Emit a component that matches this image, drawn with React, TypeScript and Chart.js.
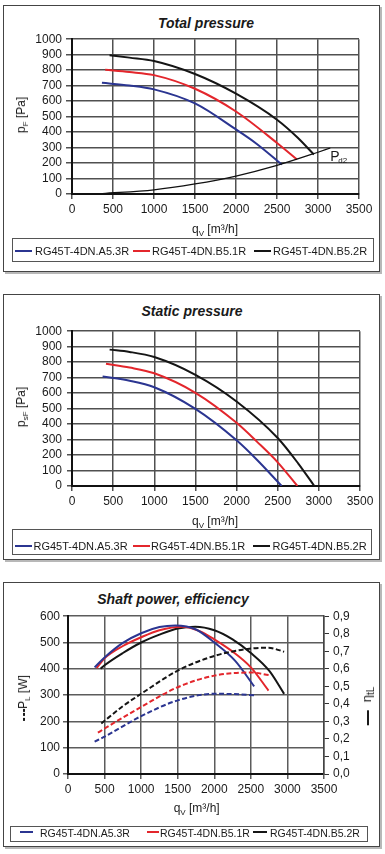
import React, { useEffect, useRef } from 'react';
import { Chart, registerables } from 'chart.js';

Chart.register(...registerables);

const FONT = "'Liberation Sans', Arial, Helvetica, sans-serif";
const INK = '#1a1a1a';

// Fan models and their curve colours
const MODELS = ['RG45T-4DN.A5.3R', 'RG45T-4DN.B5.1R', 'RG45T-4DN.B5.2R'];
const COLORS = ['#2b3591', '#e3262c', '#151515'];

// Flow axis q_V [m3/h]
const Q_MAX = 3500;
const Q_STEP = 500;

// Total pressure p_F [Pa]
const totalQ_A53 = [365, 700, 1000, 1500, 2000, 2250, 2560];
const totalP_A53 = [718, 701, 676, 585, 417, 325, 190];
const totalQ_B51 = [405, 700, 1000, 1500, 2000, 2500, 2745];
const totalP_B51 = [802, 788, 768, 680, 533, 330, 223];
const totalQ_B52 = [458, 700, 1000, 1500, 2000, 2500, 2750, 2950];
const totalP_B52 = [897, 881, 859, 775, 648, 480, 365, 255];
// Outlet dynamic pressure P_d2
const dynQ = [370, 1000, 1500, 2000, 2500, 3000, 3150];
const dynP = [3, 27, 65, 116, 185, 270, 297];

// Static pressure p_sF [Pa]
const staticQ_A53 = [372, 700, 1000, 1500, 2000, 2250, 2548];
const staticP_A53 = [707, 680, 638, 498, 295, 168, 0];
const staticQ_B51 = [413, 700, 1000, 1500, 2000, 2250, 2500, 2739];
const staticP_B51 = [789, 765, 728, 602, 408, 285, 153, 0];
const staticQ_B52 = [457, 700, 1000, 1500, 2000, 2500, 2750, 2945];
const staticP_B52 = [881, 866, 833, 718, 546, 310, 145, 0];

// Efficiency eta_tL [-] (right axis)
const effQ_A53 = [364, 500, 750, 1000, 1250, 1470, 1750, 2000, 2286, 2545];
const eff_A53 = [0.608, 0.665, 0.748, 0.803, 0.838, 0.847, 0.824, 0.75, 0.645, 0.5];
const effQ_B51 = [391, 500, 750, 1000, 1250, 1559, 1800, 2000, 2250, 2500, 2741];
const eff_B51 = [0.604, 0.66, 0.73, 0.78, 0.82, 0.84, 0.815, 0.768, 0.698, 0.608, 0.476];
const effQ_B52 = [445, 500, 750, 1000, 1250, 1500, 1741, 2000, 2250, 2500, 2750, 2955];
const eff_B52 = [0.6, 0.62, 0.69, 0.75, 0.795, 0.83, 0.84, 0.82, 0.768, 0.69, 0.589, 0.457];

// Shaft power P_L [W] (left axis)
const powQ_A53 = [364, 500, 1000, 1500, 2000, 2250, 2545];
const pow_A53 = [123, 142, 220, 280, 305, 304, 299];
const powQ_B51 = [409, 500, 1000, 1500, 2000, 2500, 2750];
const pow_B51 = [157, 173, 255, 330, 374, 386, 376];
const powQ_B52 = [455, 750, 1000, 1500, 2000, 2500, 2741, 2955];
const pow_B52 = [192, 258, 305, 393, 449, 477, 480, 465];

const tickFont = { family: FONT, size: 12 };
const fmt = (v: number) => String(v);

function curve(q: number[], v: number[], color: string, extra: any = {}) {
  return {
    data: q.map((x, i) => ({ x, y: v[i] })),
    borderColor: color,
    backgroundColor: color,
    borderWidth: 2,
    pointRadius: 0,
    fill: false,
    cubicInterpolationMode: 'monotone',
    ...extra,
  };
}

function qAxis(grid: string) {
  return {
    type: 'linear',
    position: 'bottom',
    min: 0,
    max: Q_MAX,
    ticks: { stepSize: Q_STEP, color: INK, font: tickFont, padding: 3, maxRotation: 0, autoSkip: false, callback: fmt },
    grid: { color: grid, lineWidth: 1.5, tickLength: 5 },
    border: { color: '#111', width: 2 },
    afterFit: (s: any) => { s.height = 26; },
  };
}

function vAxis(max: number, step: number, width: number, tl: number, pad: number, grid: string) {
  return {
    type: 'linear',
    position: 'left',
    min: 0,
    max,
    ticks: { stepSize: step, color: INK, font: tickFont, padding: pad, autoSkip: false, maxTicksLimit: 20, callback: fmt },
    grid: { color: grid, lineWidth: 1.5, tickLength: tl },
    border: { color: '#111', width: 2 },
    afterFit: (s: any) => { s.width = width; },
  };
}

function baseOptions(padding: any, scales: any) {
  return {
    responsive: false,
    animation: false,
    devicePixelRatio: 1,
    events: [],
    layout: { padding },
    plugins: { legend: { display: false }, title: { display: false }, tooltip: { enabled: false } },
    scales,
  };
}

// Label "P_d2" at the end of the dynamic-pressure curve
const pd2Label = {
  id: 'pd2Label',
  afterDatasetsDraw(chart: any) {
    const meta = chart.getDatasetMeta(0);
    const pt = meta.data[meta.data.length - 1];
    if (!pt) return;
    const ctx = chart.ctx;
    ctx.save();
    ctx.fillStyle = INK;
    ctx.textBaseline = 'alphabetic';
    ctx.font = `14px ${FONT}`;
    ctx.fillText('P', pt.x, pt.y + 13.4);
    ctx.font = `8px ${FONT}`;
    ctx.fillText('d2', pt.x + 8, pt.y + 14.8);
    ctx.restore();
  },
};

function totalConfig() {
  return {
    type: 'line',
    data: {
      datasets: [
        curve(dynQ, dynP, '#111', { borderWidth: 1.2 }),
        curve(totalQ_A53, totalP_A53, COLORS[0]),
        curve(totalQ_B51, totalP_B51, COLORS[1]),
        curve(totalQ_B52, totalP_B52, COLORS[2]),
      ],
    },
    options: baseOptions({ top: 8, right: 21, bottom: 8, left: 0 }, {
      x: qAxis('#505050'),
      y: vAxis(1000, 100, 68, 6, 4, '#505050'),
    }),
    plugins: [pd2Label],
  };
}

function staticConfig() {
  return {
    type: 'line',
    data: {
      datasets: [
        curve(staticQ_A53, staticP_A53, COLORS[0]),
        curve(staticQ_B51, staticP_B51, COLORS[1]),
        curve(staticQ_B52, staticP_B52, COLORS[2]),
      ],
    },
    options: baseOptions({ top: 8, right: 20, bottom: 7, left: 0 }, {
      x: qAxis('#505050'),
      y: vAxis(1000, 100, 68, 5, 5, '#505050'),
    }),
  };
}

function powerConfig() {
  const dash = { borderDash: [5, 2.5], yAxisID: 'y' };
  return {
    type: 'line',
    data: {
      datasets: [
        curve(powQ_A53, pow_A53, COLORS[0], dash),
        curve(powQ_B51, pow_B51, COLORS[1], dash),
        curve(powQ_B52, pow_B52, COLORS[2], dash),
        curve(effQ_A53, eff_A53, COLORS[0], { yAxisID: 'y1' }),
        curve(effQ_B51, eff_B51, COLORS[1], { yAxisID: 'y1' }),
        curve(effQ_B52, eff_B52, COLORS[2], { yAxisID: 'y1' }),
      ],
    },
    options: baseOptions({ top: 10, right: 6, bottom: 5, left: 0 }, {
      x: qAxis('#5c5c5c'),
      y: vAxis(600, 100, 64, 5, 3, '#5c5c5c'),
      y1: {
        type: 'linear',
        position: 'right',
        min: 0,
        max: 0.9,
        ticks: {
          stepSize: 0.1,
          color: INK,
          font: tickFont,
          padding: 4,
          autoSkip: false,
          maxTicksLimit: 20,
          callback: (v: number) => Number(v).toFixed(1).replace('.', ','),
        },
        grid: { drawOnChartArea: false, color: '#333', lineWidth: 1, tickLength: 5 },
        border: { color: '#444', width: 1.5 },
        afterFit: (s: any) => { s.width = 50; },
      },
    }),
  };
}

function Plot({ left, top, width, height, make }: any) {
  const ref = useRef<HTMLCanvasElement>(null);
  useEffect(() => {
    const chart = new Chart(ref.current as HTMLCanvasElement, make());
    return () => chart.destroy();
  }, [make]);
  return (
    <canvas
      ref={ref}
      width={width}
      height={height}
      style={{ position: 'absolute', left, top, width, height }}
    />
  );
}

function Frame({ left, top, width, height }: any) {
  return (
    <div
      style={{
        position: 'absolute', left, top, width, height, boxSizing: 'border-box',
        border: '1px solid #444', boxShadow: '2px 2px 0 #b8b8b8',
      }}
    />
  );
}

// Horizontal text placed by its baseline
function Text({ x, base, size = 12, align = 'center', bold = false, italic = false, children }: any) {
  const shift = align === 'center' ? '-50%' : align === 'right' ? '-100%' : '0';
  return (
    <div
      style={{
        position: 'absolute', left: x, top: base - 0.8465 * size,
        fontFamily: FONT, fontSize: size, lineHeight: `${size}px`, whiteSpace: 'nowrap',
        transform: `translateX(${shift})`, fontWeight: bold ? 'bold' : 'normal',
        fontStyle: italic ? 'italic' : 'normal', color: INK,
      }}
    >
      {children}
    </div>
  );
}

// Text rotated to read bottom-to-top, placed by its centre
function VText({ cx, cy, size = 12, children }: any) {
  return (
    <div
      style={{
        position: 'absolute', left: cx, top: cy, fontFamily: FONT, fontSize: size,
        lineHeight: `${size}px`, whiteSpace: 'nowrap', color: INK,
        transform: 'translate(-50%, -50%) rotate(-90deg)',
      }}
    >
      {children}
    </div>
  );
}

const Sub = ({ children, size = 8, drop = 3 }: any) => (
  <span style={{ fontSize: size, position: 'relative', top: drop }}>{children}</span>
);

function QTitle({ x, base }: any) {
  return (
    <Text x={x} base={base}>
      q<Sub>V</Sub> [m³/h]
    </Text>
  );
}

function Legend({ box, samples, texts, base, size = 11 }: any) {
  return (
    <>
      <div
        style={{
          position: 'absolute', left: box[0], top: box[1], width: box[2] - box[0], height: box[3] - box[1],
          boxSizing: 'border-box', border: '1px solid #555',
        }}
      />
      {MODELS.map((m, i) => (
        <React.Fragment key={m}>
          <div
            style={{
              position: 'absolute', left: samples[i][0], width: samples[i][1], top: base - 5.5,
              height: 2, background: COLORS[i],
            }}
          />
          <Text x={texts[i]} base={base} size={size} align="left">{m}</Text>
        </React.Fragment>
      ))}
    </>
  );
}

const dashBit = { display: 'inline-block', width: 3, height: 2.5, background: INK, verticalAlign: 'middle', marginRight: 1.5 };

export default function App() {
  return (
    <div style={{ position: 'absolute', left: 0, top: 0, width: 385, height: 854, background: '#fff', overflow: 'hidden' }}>
      {/* Total pressure */}
      <Frame left={3} top={5} width={377} height={267} />
      <Text x={206} base={28.3} size={14} bold italic>Total pressure</Text>
      <Plot left={4} top={28} width={376} height={200} make={totalConfig} />
      <VText cx={22.3} cy={115}>
        p<Sub>F</Sub> [Pa]
      </VText>
      <QTitle x={215} base={233.3} />
      <Legend
        box={[12, 238, 374, 262]}
        samples={[[15, 17], [133, 17], [254, 17]]}
        texts={[35, 152, 273]}
        base={255.8}
      />

      {/* Static pressure */}
      <Frame left={3} top={294} width={377} height={266} />
      <Text x={192} base={315.7} size={14} bold italic>Static pressure</Text>
      <Plot left={4} top={319} width={376} height={200} make={staticConfig} />
      <VText cx={22.3} cy={407}>
        p<Sub>sF</Sub> [Pa]
      </VText>
      <QTitle x={215} base={525.5} />
      <Legend
        box={[12, 529, 372, 555]}
        samples={[[15, 17], [133, 17], [253, 17]]}
        texts={[33.5, 151, 272.5]}
        base={550.5}
      />

      {/* Shaft power, efficiency */}
      <Frame left={3} top={582} width={377} height={265} />
      <Text x={173} base={604} size={14} bold italic>Shaft power, efficiency</Text>
      <Plot left={4} top={605} width={376} height={200} make={powerConfig} />
      <VText cx={24.3} cy={697.5}>
        <span style={dashBit} />
        <span style={dashBit} />
        <span style={{ ...dashBit, marginRight: 0 }} />
        P<Sub>L</Sub> [W]
      </VText>
      <VText cx={366.5} cy={706} size={13}>
        <span style={{ display: 'inline-block', width: 15, height: 2, background: INK, verticalAlign: 'middle', marginRight: 8 }} />
        η<Sub size={10} drop={3}>tL</Sub>
      </VText>
      <QTitle x={196.7} base={811.7} />
      <Legend
        box={[10, 826, 368, 842]}
        samples={[[20, 13], [146.7, 12], [253, 14]]}
        texts={[40, 160, 270]}
        base={836.5}
        size={10.5}
      />
    </div>
  );
}
